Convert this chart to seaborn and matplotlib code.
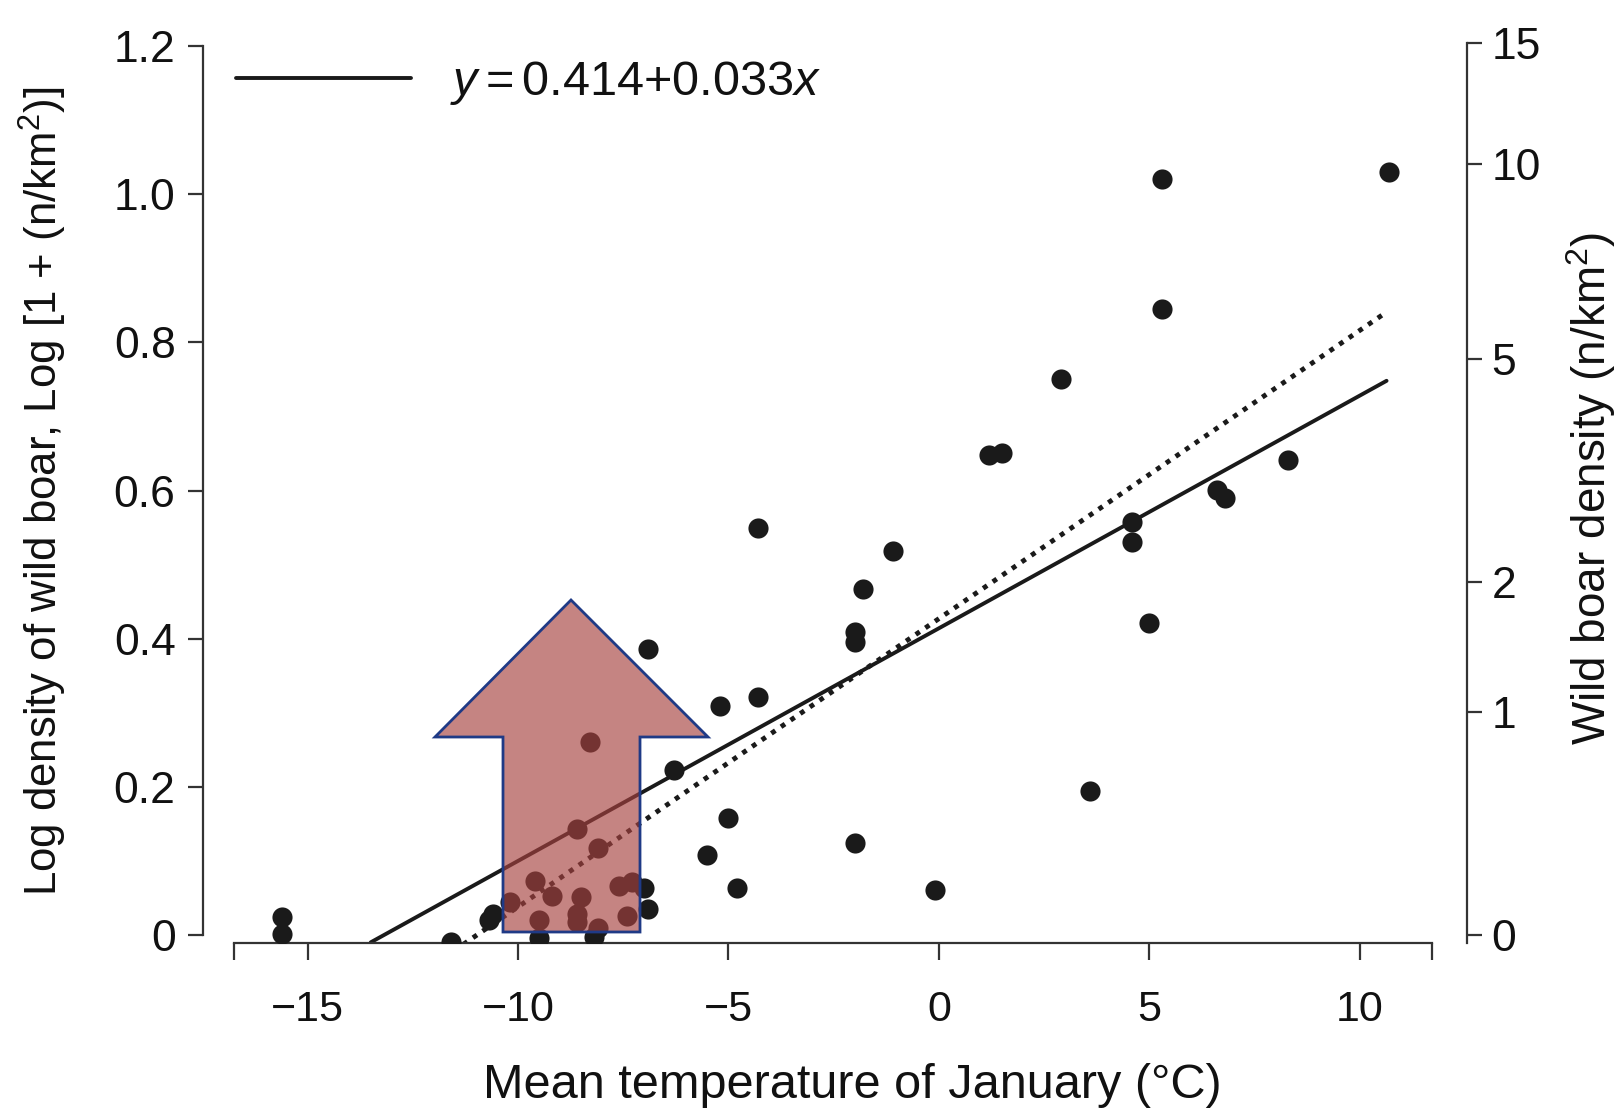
import numpy as np
import pandas as pd
import matplotlib
matplotlib.use("Agg")
import matplotlib.pyplot as plt
from matplotlib.patches import Polygon
from matplotlib.colors import to_rgba
import seaborn as sns

# mean January temperature (deg C) and log10(1 + density)
temp = [-15.6, -15.6, -11.6, -10.7, -10.6, -10.2, -9.6, -9.5, -9.5, -9.2,
        -8.6, -8.6, -8.6, -8.5, -8.3, -8.1, -8.1, -8.2, -7.6, -7.4,
        -7.3, -7.0, -6.9, -6.9, -6.3, -5.5, -5.2, -5.0, -4.8, -4.3,
        -4.3, -2.0, -2.0, -2.0, -1.8, -1.1, -0.1, 1.2, 1.5, 2.9,
        3.6, 4.6, 4.6, 5.0, 5.3, 5.3, 6.6, 6.8, 8.3, 10.7]
log_density = [0.024, 0.001, -0.009, 0.020, 0.029, 0.045, 0.073, 0.020, -0.004, 0.053,
               0.143, 0.018, 0.029, 0.051, 0.261, 0.117, 0.009, -0.003, 0.066, 0.025,
               0.072, 0.063, 0.035, 0.386, 0.223, 0.108, 0.309, 0.158, 0.063, 0.321,
               0.550, 0.124, 0.396, 0.409, 0.467, 0.519, 0.061, 0.648, 0.650, 0.751,
               0.194, 0.531, 0.558, 0.421, 0.845, 1.021, 0.601, 0.590, 0.641, 1.030]

# fitted lines (solid one as drawn, dotted second fit)
solid_intercept, solid_slope = 0.414, 0.0314
solid_x = [-13.5, 10.64]
dotted_intercept, dotted_slope = 0.427, 0.0389
dotted_x = [-11.3, 10.64]
legend_label = r"$y{=}0.414{+}0.033x$"

x_ticks = [-15, -10, -5, 0, 5, 10]
y_ticks = [0, 0.2, 0.4, 0.6, 0.8, 1.0, 1.2]
y_ticklabels = ["0", "0.2", "0.4", "0.6", "0.8", "1.0", "1.2"]
density_ticks = [0, 1, 2, 5, 10, 15]

sns.set_style("ticks")
plt.rcParams["font.family"] = ["Liberation Sans", "DejaVu Sans"]
plt.rcParams["mathtext.fontset"] = "custom"
plt.rcParams["mathtext.rm"] = "Liberation Sans"
plt.rcParams["mathtext.it"] = "Liberation Sans:italic"
text_col = "#111111"
plt.rcParams["text.color"] = text_col
plt.rcParams["axes.labelcolor"] = text_col
plt.rcParams["xtick.labelcolor"] = text_col
plt.rcParams["ytick.labelcolor"] = text_col

W, H = 1620, 1109
fig = plt.figure(figsize=(W / 100, H / 100), dpi=100)
ax = fig.add_axes([234 / W, 1 - 943 / H, (1432 - 234) / W, (943 - 29) / H])

ink = "#1a1a1a"
axis_col = "#333333"

df = pd.DataFrame({"temp": temp, "logd": log_density})
solid = pd.DataFrame({"x": solid_x})
solid["y"] = solid_intercept + solid_slope * solid["x"]
dotted = pd.DataFrame({"x": dotted_x})
dotted["y"] = dotted_intercept + dotted_slope * dotted["x"]

sns.lineplot(data=solid, x="x", y="y", ax=ax, color=ink, linewidth=2.8,
             label=legend_label)
sns.lineplot(data=dotted, x="x", y="y", ax=ax, color=ink, linewidth=3.5,
             linestyle=(0, (1, 1.4)), legend=False)
sns.scatterplot(data=df, x="temp", y="logd", ax=ax, color=ink, s=210,
                linewidth=0, zorder=3)

xlim = (-16.75, 11.72)
ylim = (-0.0108, 1.223)
ax.set_xlim(xlim)
ax.set_ylim(ylim)
ax.set_xticks(x_ticks)
ax.set_xticks(list(xlim), minor=True)
ax.set_yticks(y_ticks)
ax.set_yticklabels(y_ticklabels)

for s in ["top", "right"]:
    ax.spines[s].set_visible(False)
ax.spines["left"].set_position(("outward", 22.3))
ax.spines["left"].set_bounds(0, 1.2)
for s in ["left", "bottom"]:
    ax.spines[s].set_linewidth(1.6)
    ax.spines[s].set_color(axis_col)

ax.tick_params(axis="x", which="both", direction="out", length=12, width=1.6,
               color=axis_col, pad=22, labelsize=31)
ax.tick_params(axis="y", direction="out", length=10.8, width=1.6,
               color=axis_col, pad=9, labelsize=32)

ax.set_xlabel("Mean temperature of January (°C)", fontsize=35, va="center")
ax.xaxis.set_label_coords(852 / W, 1 - 1085 / H, transform=fig.transFigure)
ax.set_ylabel("Log density of wild boar, Log [1 + (n/km$^2$)]", fontsize=31.5,
              va="center")
ax.yaxis.set_label_coords(43 / W, 1 - 491 / H, transform=fig.transFigure)

# right axis: raw density on the log10(1 + n) scale
ax2 = ax.twinx()
ax2.set_ylim(ylim)
density_pos = np.log10(1 + np.array(density_ticks))
ax2.set_yticks(density_pos)
ax2.set_yticklabels([str(v) for v in density_ticks])
for s in ["top", "left", "bottom"]:
    ax2.spines[s].set_visible(False)
ax2.spines["right"].set_position(("outward", 25.2))
ax2.spines["right"].set_bounds(ylim[0], density_pos[-1])
ax2.spines["right"].set_linewidth(1.6)
ax2.spines["right"].set_color(axis_col)
ax2.tick_params(axis="y", direction="out", length=10.8, width=1.6,
                color=axis_col, pad=7, labelsize=32)
ax2.set_ylabel("Wild boar density (n/km$^2$)", fontsize=33, va="center")
ax2.yaxis.set_label_coords(1591 / W, 1 - 488 / H, transform=fig.transFigure)

ax.legend(loc="center left", bbox_to_anchor=(236 / W, 1 - 83 / H),
          bbox_transform=fig.transFigure, frameon=False, fontsize=35,
          handlelength=3.6, handletextpad=0.8, borderpad=0, borderaxespad=0)

# overlaid up-arrow (figure pixel coordinates)
arrow_px = [(571, 600), (708, 737), (640, 737), (640, 932),
            (503, 932), (503, 737), (435, 737)]
arrow = Polygon([(x / W, 1 - y / H) for x, y in arrow_px], closed=True,
                transform=fig.transFigure, facecolor=to_rgba("#A6423F", 0.65),
                edgecolor="#1f3a86", linewidth=2.0, zorder=10)
fig.patches.append(arrow)

fig.savefig("out.png", dpi=100)
plt.close(fig)
